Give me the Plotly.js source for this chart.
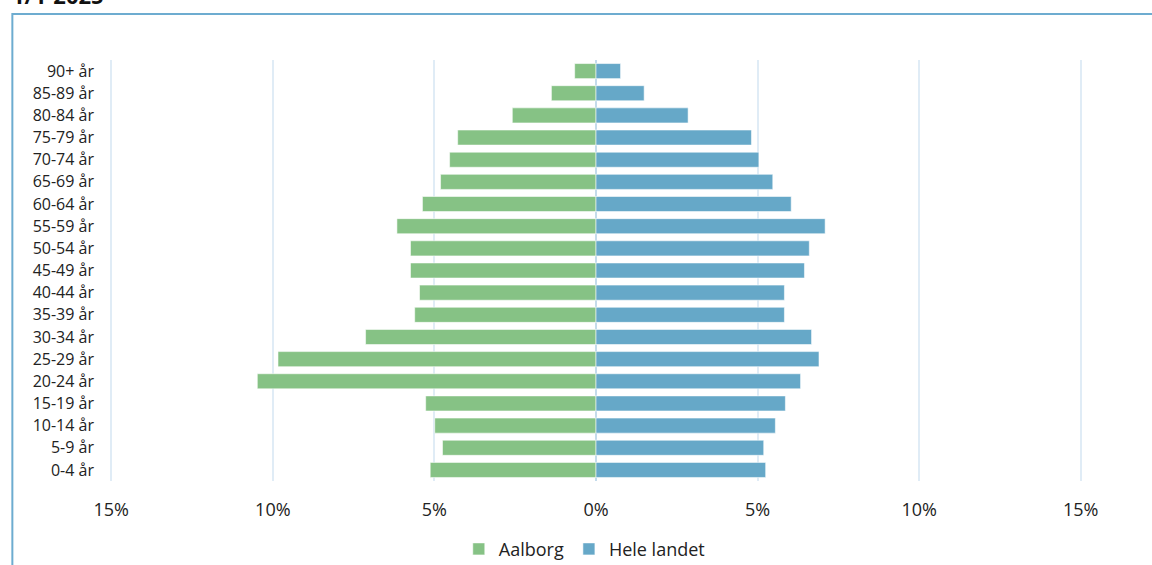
<!DOCTYPE html>
<html>
<head>
<meta charset="utf-8">
<script src="https://cdn.plot.ly/plotly-3.0.1.min.js"></script>
<style>
html,body{margin:0;padding:0;background:#fff;}
#chart{width:1152px;height:565px;}
</style>
</head>
<body>
<div id="chart"></div>
<script>
const categories = ["0-4 år","5-9 år","10-14 år","15-19 år","20-24 år","25-29 år","30-34 år","35-39 år","40-44 år","45-49 år","50-54 år","55-59 år","60-64 år","65-69 år","70-74 år","75-79 år","80-84 år","85-89 år","90+ år"];
const aalborg = [5.13,4.75,4.99,5.27,10.48,9.84,7.13,5.61,5.46,5.74,5.74,6.16,5.37,4.81,4.53,4.28,2.59,1.38,0.66];
const heleLandet = [5.25,5.19,5.55,5.86,6.33,6.90,6.67,5.83,5.83,6.45,6.60,7.09,6.04,5.47,5.04,4.81,2.85,1.49,0.76];
const tickVals = [-15,-10,-5,0,5,10,15];
const tickText = ["15%","10%","5%","0%","5%","10%","15%"];
const titleText = "1/1-2025";

const green = "#86C285";
const blue = "#66A8C8";

const traces = [
  {
    type: "bar", orientation: "h", name: "Aalborg",
    y: categories, x: aalborg.map(v => -v),
    marker: {color: green, line: {color: "rgba(255,255,255,0.55)", width: 1}},
    hoverinfo: "skip"
  },
  {
    type: "bar", orientation: "h", name: "Hele landet",
    y: categories, x: heleLandet,
    marker: {color: blue, line: {color: "rgba(255,255,255,0.55)", width: 1}},
    hoverinfo: "skip"
  }
];

const layout = {
  width: 1152, height: 565,
  margin: {l: 108, r: 68, t: 60, b: 84, autoexpand: false},
  paper_bgcolor: "#fff", plot_bgcolor: "#fff",
  font: {family: "Open Sans, sans-serif", color: "#222"},
  barmode: "overlay",
  bargap: 0.32,
  xaxis: {
    range: [-15.1, 15.1],
    tickvals: tickVals, ticktext: tickText,
    tickfont: {size: 18, color: "#222"},
    showgrid: true, gridcolor: "#E0ECF6", gridwidth: 2,
    zeroline: true, zerolinecolor: "#C4DBEB", zerolinewidth: 2,
    showline: false, ticks: "", ticklabelstandoff: 16,
    fixedrange: true
  },
  yaxis: {
    type: "category",
    categoryorder: "array", categoryarray: categories,
    tickfont: {size: 16, color: "#222"},
    showgrid: false, zeroline: false, showline: false,
    ticks: "", ticklabelstandoff: 13,
    fixedrange: true
  },
  legend: {
    orientation: "h", x: 0.488, xanchor: "center", y: -0.162, yanchor: "middle",
    font: {size: 18, color: "#222"}, traceorder: "normal",
    itemwidth: 30, tracegroupgap: 0
  },
  shapes: [
    {type: "rect", xref: "paper", yref: "paper",
     x0: -0.098, x1: 1.2, y0: -0.5, y1: 1.1095,
     line: {color: "#6DACD0", width: 2}, fillcolor: "rgba(0,0,0,0)", layer: "below"}
  ],
  annotations: [
    {text: "<b>" + titleText + "</b>", xref: "paper", yref: "paper",
     x: -0.099, xanchor: "left", y: 1.117, yanchor: "bottom",
     showarrow: false, font: {size: 22, color: "#111"}, borderpad: 0}
  ]
};

Plotly.newPlot("chart", traces, layout, {displayModeBar: false, staticPlot: true});
</script>
</body>
</html>
